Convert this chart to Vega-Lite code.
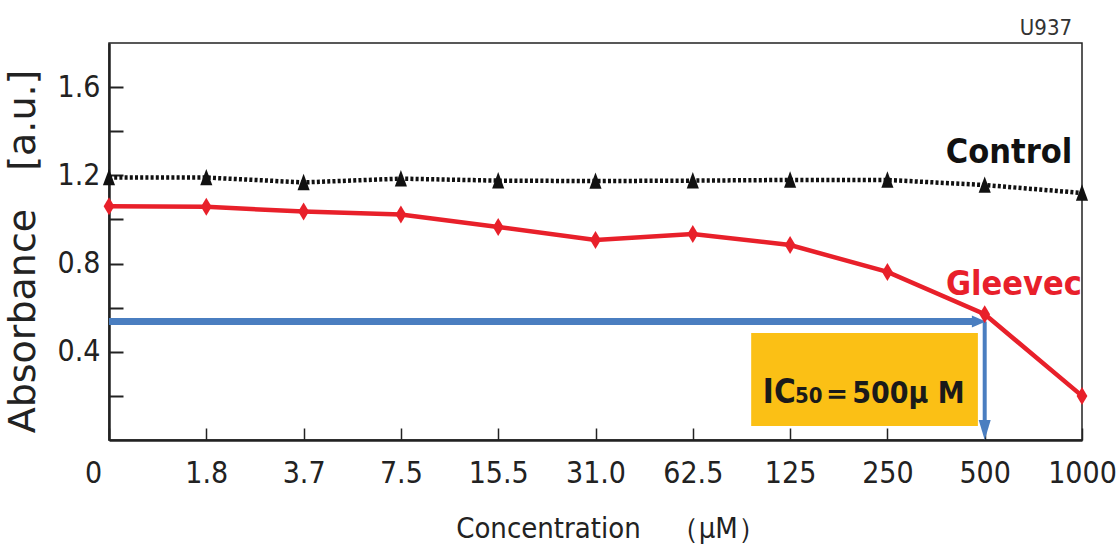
{
  "$schema": "https://vega.github.io/schema/vega-lite/v6.json",
  "width": 973,
  "height": 397,
  "autosize": {"type": "none"},
  "padding": {"left": 109, "top": 43, "right": 35, "bottom": 114},
  "background": "white",
  "config": {
    "view": {"stroke": "#222", "strokeWidth": 1.5},
    "font": "DejaVu Sans Condensed, DejaVu Sans, sans-serif"
  },
  "datasets": {
    "series": [
      {"i": 0, "conc": "0", "control": 1.19, "gleevec": 1.06},
      {"i": 1, "conc": "1.8", "control": 1.19, "gleevec": 1.057},
      {"i": 2, "conc": "3.7", "control": 1.168, "gleevec": 1.036},
      {"i": 3, "conc": "7.5", "control": 1.185, "gleevec": 1.022},
      {"i": 4, "conc": "15.5", "control": 1.176, "gleevec": 0.966},
      {"i": 5, "conc": "31.0", "control": 1.174, "gleevec": 0.907},
      {"i": 6, "conc": "62.5", "control": 1.176, "gleevec": 0.934},
      {"i": 7, "conc": "125", "control": 1.179, "gleevec": 0.884},
      {"i": 8, "conc": "250", "control": 1.179, "gleevec": 0.762},
      {"i": 9, "conc": "500", "control": 1.156, "gleevec": 0.57},
      {"i": 10, "conc": "1000", "control": 1.12, "gleevec": 0.2}
    ]
  },
  "layer": [
    {
      "data": {"name": "series"},
      "mark": {"type": "line", "color": "#111", "strokeWidth": 4.5, "strokeDash": [3, 2.2]},
      "encoding": {
        "x": {
          "field": "i", "type": "quantitative",
          "scale": {"domain": [0, 10], "nice": false, "zero": false},
          "axis": {
            "title": "Concentration　（μM）",
            "values": [0, 1, 2, 3, 4, 5, 6, 7, 8, 9, 10],
            "labelExpr": "['0','1.8','3.7','7.5','15.5','31.0','62.5','125','250','500','1000'][datum.value]",
            "labelOffset": {"condition": {"test": "datum.value == 0", "value": -16}, "value": 0},
            "labelFlush": false,
            "labelOverlap": false,
            "tickSize": -12, "tickWidth": 1.5, "tickColor": "#222",
            "domainColor": "#222", "domainWidth": 2.5,
            "grid": false,
            "labelFontSize": 30, "labelColor": "#222", "labelPadding": 30, "labelBaseline": "top",
            "titleFontSize": 29, "titleFontWeight": "normal", "titleColor": "#222",
            "titleX": 502, "titleY": 88, "titleBaseline": "middle", "titleAlign": "center"
          }
        },
        "y": {
          "field": "control", "type": "quantitative",
          "scale": {"domain": [0, 1.8], "nice": false},
          "axis": {
            "title": "Absorbance　[a.u.]",
            "values": [0.2, 0.4, 0.6, 0.8, 1.0, 1.2, 1.4, 1.6],
            "labelExpr": "round(datum.value*10)%4==0 ? format(datum.value,'.1f') : ''",
            "tickSize": -14, "tickWidth": 2, "tickColor": "#222",
            "domainColor": "#222", "domainWidth": 2.5,
            "grid": false,
            "labelFontSize": 30, "labelColor": "#222", "labelPadding": 23,
            "titleFont": "DejaVu Sans", "titleFontSize": 38, "titleFontWeight": "normal", "titleColor": "#222",
            "titleX": -86, "titleY": 208, "titleAngle": -90, "titleBaseline": "middle", "titleAlign": "center"
          }
        }
      }
    },
    {
      "data": {"values": [{"x1": 6.6, "x2": 8.93, "y1": 0.485, "y2": 0.063}]},
      "mark": {"type": "rect", "color": "#FBC015"},
      "encoding": {
        "x": {"field": "x1", "type": "quantitative"},
        "x2": {"field": "x2"},
        "y": {"field": "y1", "type": "quantitative"},
        "y2": {"field": "y2"}
      }
    },
    {
      "data": {"values": [{"x": 6.72, "y": 0.168, "t": "IC"}]},
      "mark": {"type": "text", "align": "left", "baseline": "alphabetic", "fontSize": 33, "fontWeight": "bold", "color": "#1a1a1a"},
      "encoding": {
        "x": {"field": "x", "type": "quantitative"},
        "y": {"field": "y", "type": "quantitative"},
        "text": {"field": "t"}
      }
    },
    {
      "data": {"values": [{"x": 7.05, "y": 0.168, "t": "50"}]},
      "mark": {"type": "text", "align": "left", "baseline": "alphabetic", "fontSize": 22, "fontWeight": "bold", "color": "#1a1a1a"},
      "encoding": {
        "x": {"field": "x", "type": "quantitative"},
        "y": {"field": "y", "type": "quantitative"},
        "text": {"field": "t"}
      }
    },
    {
      "data": {"values": [{"x": 7.33, "y": 0.168, "t": "＝500μ M"}]},
      "mark": {"type": "text", "align": "left", "baseline": "alphabetic", "fontSize": 30, "fontWeight": "bold", "color": "#1a1a1a"},
      "encoding": {
        "x": {"field": "x", "type": "quantitative"},
        "y": {"field": "y", "type": "quantitative"},
        "text": {"field": "t"}
      }
    },
    {
      "data": {"values": [{"x1": 0, "x2": 8.88, "y": 0.537}]},
      "mark": {"type": "rule", "color": "#4A7EC0", "strokeWidth": 7},
      "encoding": {
        "x": {"field": "x1", "type": "quantitative"},
        "x2": {"field": "x2"},
        "y": {"field": "y", "type": "quantitative"}
      }
    },
    {
      "data": {"values": [{"x": 9.0, "y1": 0.537, "y2": 0.06}]},
      "mark": {"type": "rule", "color": "#4A7EC0", "strokeWidth": 4},
      "encoding": {
        "x": {"field": "x", "type": "quantitative"},
        "y": {"field": "y1", "type": "quantitative"},
        "y2": {"field": "y2"}
      }
    },
    {
      "data": {"values": [{"x": 8.94, "y": 0.537}]},
      "mark": {"type": "point", "shape": "M1,0L-1,-0.85L-1,0.85Z", "size": 196, "filled": true, "color": "#4A7EC0", "opacity": 1},
      "encoding": {
        "x": {"field": "x", "type": "quantitative"},
        "y": {"field": "y", "type": "quantitative"}
      }
    },
    {
      "data": {"values": [{"x": 9.0, "y": 0.045}]},
      "mark": {"type": "point", "shape": "M0,1L-0.6,-1L0.6,-1Z", "size": 400, "filled": true, "color": "#4A7EC0", "opacity": 1},
      "encoding": {
        "x": {"field": "x", "type": "quantitative"},
        "y": {"field": "y", "type": "quantitative"}
      }
    },
    {
      "data": {"name": "series"},
      "mark": {"type": "point", "shape": "M0,-1L0.7,0.9L-0.7,0.9Z", "size": 300, "filled": true, "color": "#111", "opacity": 1},
      "encoding": {
        "x": {"field": "i", "type": "quantitative"},
        "y": {"field": "control", "type": "quantitative"}
      }
    },
    {
      "data": {"name": "series"},
      "mark": {"type": "line", "color": "#E8202A", "strokeWidth": 4.5},
      "encoding": {
        "x": {"field": "i", "type": "quantitative"},
        "y": {"field": "gleevec", "type": "quantitative"}
      }
    },
    {
      "data": {"name": "series"},
      "mark": {"type": "point", "shape": "M0,-1L0.6,0L0,1L-0.6,0Z", "size": 324, "filled": true, "color": "#E8202A", "opacity": 1},
      "encoding": {
        "x": {"field": "i", "type": "quantitative"},
        "y": {"field": "gleevec", "type": "quantitative"}
      }
    },
    {
      "data": {"values": [{"x": 9.25, "y": 1.256, "t": "Control"}]},
      "mark": {"type": "text", "align": "center", "baseline": "alphabetic", "fontSize": 34, "fontWeight": "bold", "color": "#111"},
      "encoding": {
        "x": {"field": "x", "type": "quantitative"},
        "y": {"field": "y", "type": "quantitative"},
        "text": {"field": "t"}
      }
    },
    {
      "data": {"values": [{"x": 9.3, "y": 0.658, "t": "Gleevec"}]},
      "mark": {"type": "text", "align": "center", "baseline": "alphabetic", "fontSize": 34, "fontWeight": "bold", "color": "#E8202A"},
      "encoding": {
        "x": {"field": "x", "type": "quantitative"},
        "y": {"field": "y", "type": "quantitative"},
        "text": {"field": "t"}
      }
    },
    {
      "data": {"values": [{"x": 9.63, "y": 1.837, "t": "U937"}]},
      "mark": {"type": "text", "align": "center", "baseline": "alphabetic", "fontSize": 22, "color": "#333", "clip": false},
      "encoding": {
        "x": {"field": "x", "type": "quantitative"},
        "y": {"field": "y", "type": "quantitative"},
        "text": {"field": "t"}
      }
    }
  ]
}
